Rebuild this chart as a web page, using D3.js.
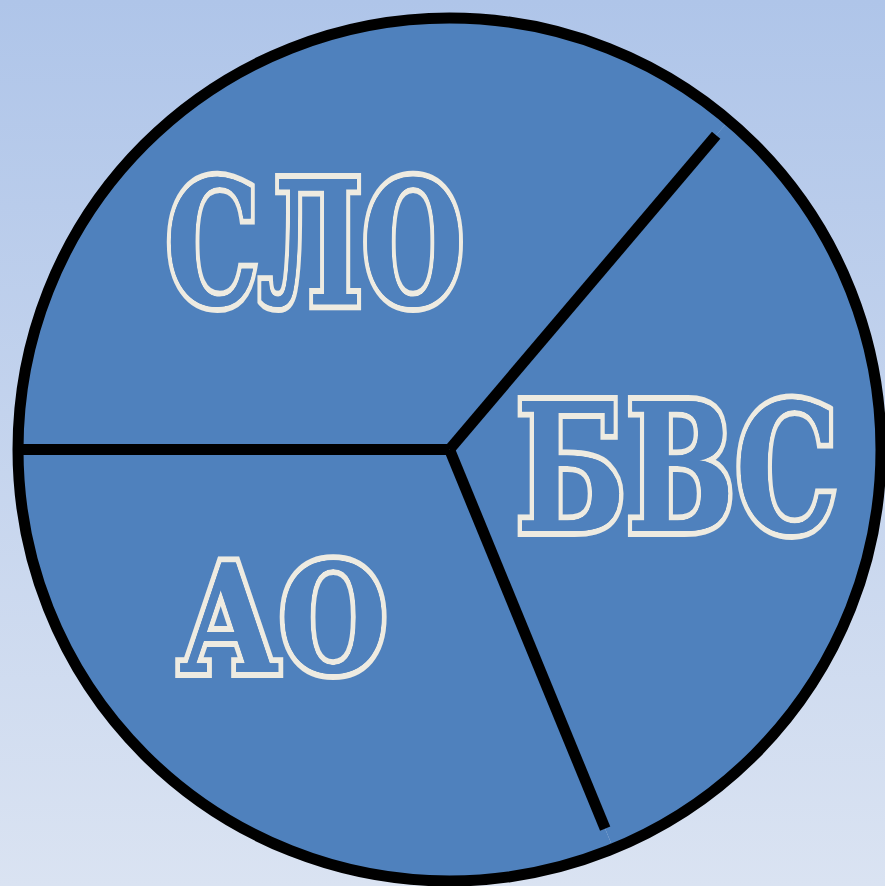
<!DOCTYPE html>
<html lang="bg">
<head>
<meta charset="utf-8">
<script src="https://cdn.jsdelivr.net/npm/d3@7"></script>
<style>
  body { margin: 0; overflow: hidden; }
</style>
</head>
<body>
<div id="chart"></div>
<script>
// slices, clockwise from 9 o'clock
var labels = ["СЛО", "БВС", "АО"];
var values = [36.2, 32.6, 31.2];

var svgWidth = 885;
var svgHeight = 886;
var cx = 449.5, cy = 449.5;
var radius = 431.5;

var svg = d3.select("#chart")
  .append("svg")
    .attr("width", svgWidth)
    .attr("height", svgHeight);

var grad = svg.append("defs").append("linearGradient")
  .attr("id", "bg")
  .attr("x1", 0).attr("y1", 0).attr("x2", 0).attr("y2", 1);
grad.append("stop").attr("offset", "0%").attr("stop-color", "#afc5e9");
grad.append("stop").attr("offset", "100%").attr("stop-color", "#dae3f2");

svg.append("rect")
  .attr("width", svgWidth)
  .attr("height", svgHeight)
  .attr("fill", "url(#bg)");

var chartGroup = svg.append("g")
  .attr("transform", `translate(${cx}, ${cy})`);

var pie = d3.pie()
  .sort(null)
  .startAngle(-Math.PI / 2)
  .endAngle(1.5 * Math.PI);

var arcs = pie(values);

var arc = d3.arc().innerRadius(0).outerRadius(radius);

chartGroup.selectAll("path.slice")
  .data(arcs)
  .enter().append("path")
    .attr("class", "slice")
    .attr("d", arc)
    .attr("fill", "#4f81bd");

// dividers (two of them stop short of the rim, like the original)
var spokeScale = [1.0, 0.955, 0.95];
chartGroup.selectAll("line.spoke")
  .data(arcs)
  .enter().append("line")
    .attr("class", "spoke")
    .attr("x1", 0).attr("y1", 0)
    .attr("x2", (d, i) => Math.sin(d.startAngle) * radius * spokeScale[i])
    .attr("y2", (d, i) => -Math.cos(d.startAngle) * radius * spokeScale[i])
    .attr("stroke", "#000")
    .attr("stroke-width", 11);

chartGroup.append("circle")
  .attr("r", radius)
  .attr("fill", "none")
  .attr("stroke", "#000")
  .attr("stroke-width", 11);

// label placement: [x, baseline y, width, font size] in page pixels
var labelBox = [
  [166, 305, 298, 172],
  [516, 531, 322, 178],
  [179, 672, 208, 150]
];

svg.selectAll("text.lbl")
  .data(labels)
  .enter().append("text")
    .attr("class", "lbl")
    .attr("x", (d, i) => labelBox[i][0])
    .attr("y", (d, i) => labelBox[i][1])
    .attr("textLength", (d, i) => labelBox[i][2])
    .attr("lengthAdjust", "spacingAndGlyphs")
    .style("font-family", "'DejaVu Serif', serif")
    .style("font-weight", "bold")
    .style("font-size", (d, i) => labelBox[i][3] + "px")
    .style("paint-order", "stroke")
    .attr("fill", "#4f81bd")
    .attr("stroke", "#eeebe1")
    .attr("stroke-width", 12)
    .attr("stroke-linejoin", "miter")
    .text(d => d);

// inner edge of the outline
svg.selectAll("text.edge")
  .data(labels)
  .enter().append("text")
    .attr("class", "edge")
    .attr("x", (d, i) => labelBox[i][0])
    .attr("y", (d, i) => labelBox[i][1])
    .attr("textLength", (d, i) => labelBox[i][2])
    .attr("lengthAdjust", "spacingAndGlyphs")
    .style("font-family", "'DejaVu Serif', serif")
    .style("font-weight", "bold")
    .style("font-size", (d, i) => labelBox[i][3] + "px")
    .attr("fill", "#4f81bd")
    .text(d => d);
</script>
</body>
</html>
